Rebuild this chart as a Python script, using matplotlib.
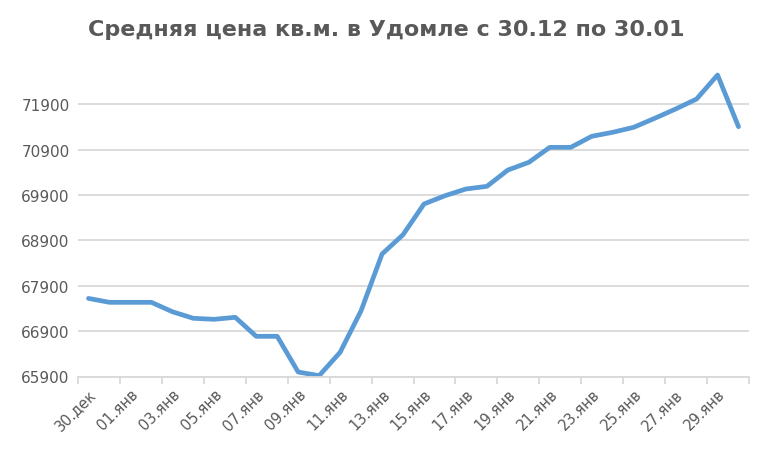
import matplotlib.pyplot as plt
import numpy as np

# dates from 30.12 to 30.01
dates = ['30.дек', '31.дек'] + ['%02d.янв' % d for d in range(1, 31)]

prices = [67620, 67534, 67534, 67534, 67327, 67182, 67160, 67204,
          66785, 66785, 65999, 65918, 66433, 67349, 68598, 69023,
          69700, 69882, 70030, 70089, 70448, 70618, 70948, 70948,
          71191, 71279, 71389, 71587, 71792, 72012, 72541, 71402]

yticks = [65900, 66900, 67900, 68900, 69900, 70900, 71900]

grey = '#595959'

fig = plt.figure(figsize=(7.72, 4.6), dpi=100)
ax = fig.add_axes([78 / 772, 82.5 / 460, 671 / 772, 308.7 / 460])

x = np.arange(len(prices))
ax.plot(x, prices, color='#5b9bd5', lw=3.4, solid_joinstyle='round', solid_capstyle='round')

ax.set_xlim(-0.5, len(prices) - 0.5)
ax.set_ylim(65900, 72700)
ax.set_yticks(yticks)
ax.set_yticklabels([str(v) for v in yticks], color=grey, fontsize=11)
ax.grid(axis='y', color='#d9d9d9', lw=1.3)
ax.set_axisbelow(True)

ax.set_xticks(x[::2])
ax.set_xticklabels(dates[::2], rotation=45, ha='right', va='top',
                   rotation_mode='anchor', color=grey, fontsize=10.5)
ax.set_xticks(np.arange(-0.5, len(prices), 2), minor=True)
ax.tick_params(axis='x', which='major', length=0, pad=7)
ax.tick_params(axis='x', which='minor', length=5, color='#d9d9d9', width=1.3)
ax.tick_params(axis='y', length=0, pad=6)

for s in ['top', 'right', 'left']:
    ax.spines[s].set_visible(False)
ax.spines['bottom'].set_color('#d9d9d9')
ax.spines['bottom'].set_linewidth(1.3)

fig.text(0.5, 1 - 30 / 460, 'Средняя цена кв.м. в Удомле с 30.12 по 30.01',
         ha='center', va='center', fontsize=16, fontweight='bold', color=grey)

fig.savefig('out.png', dpi=100)
